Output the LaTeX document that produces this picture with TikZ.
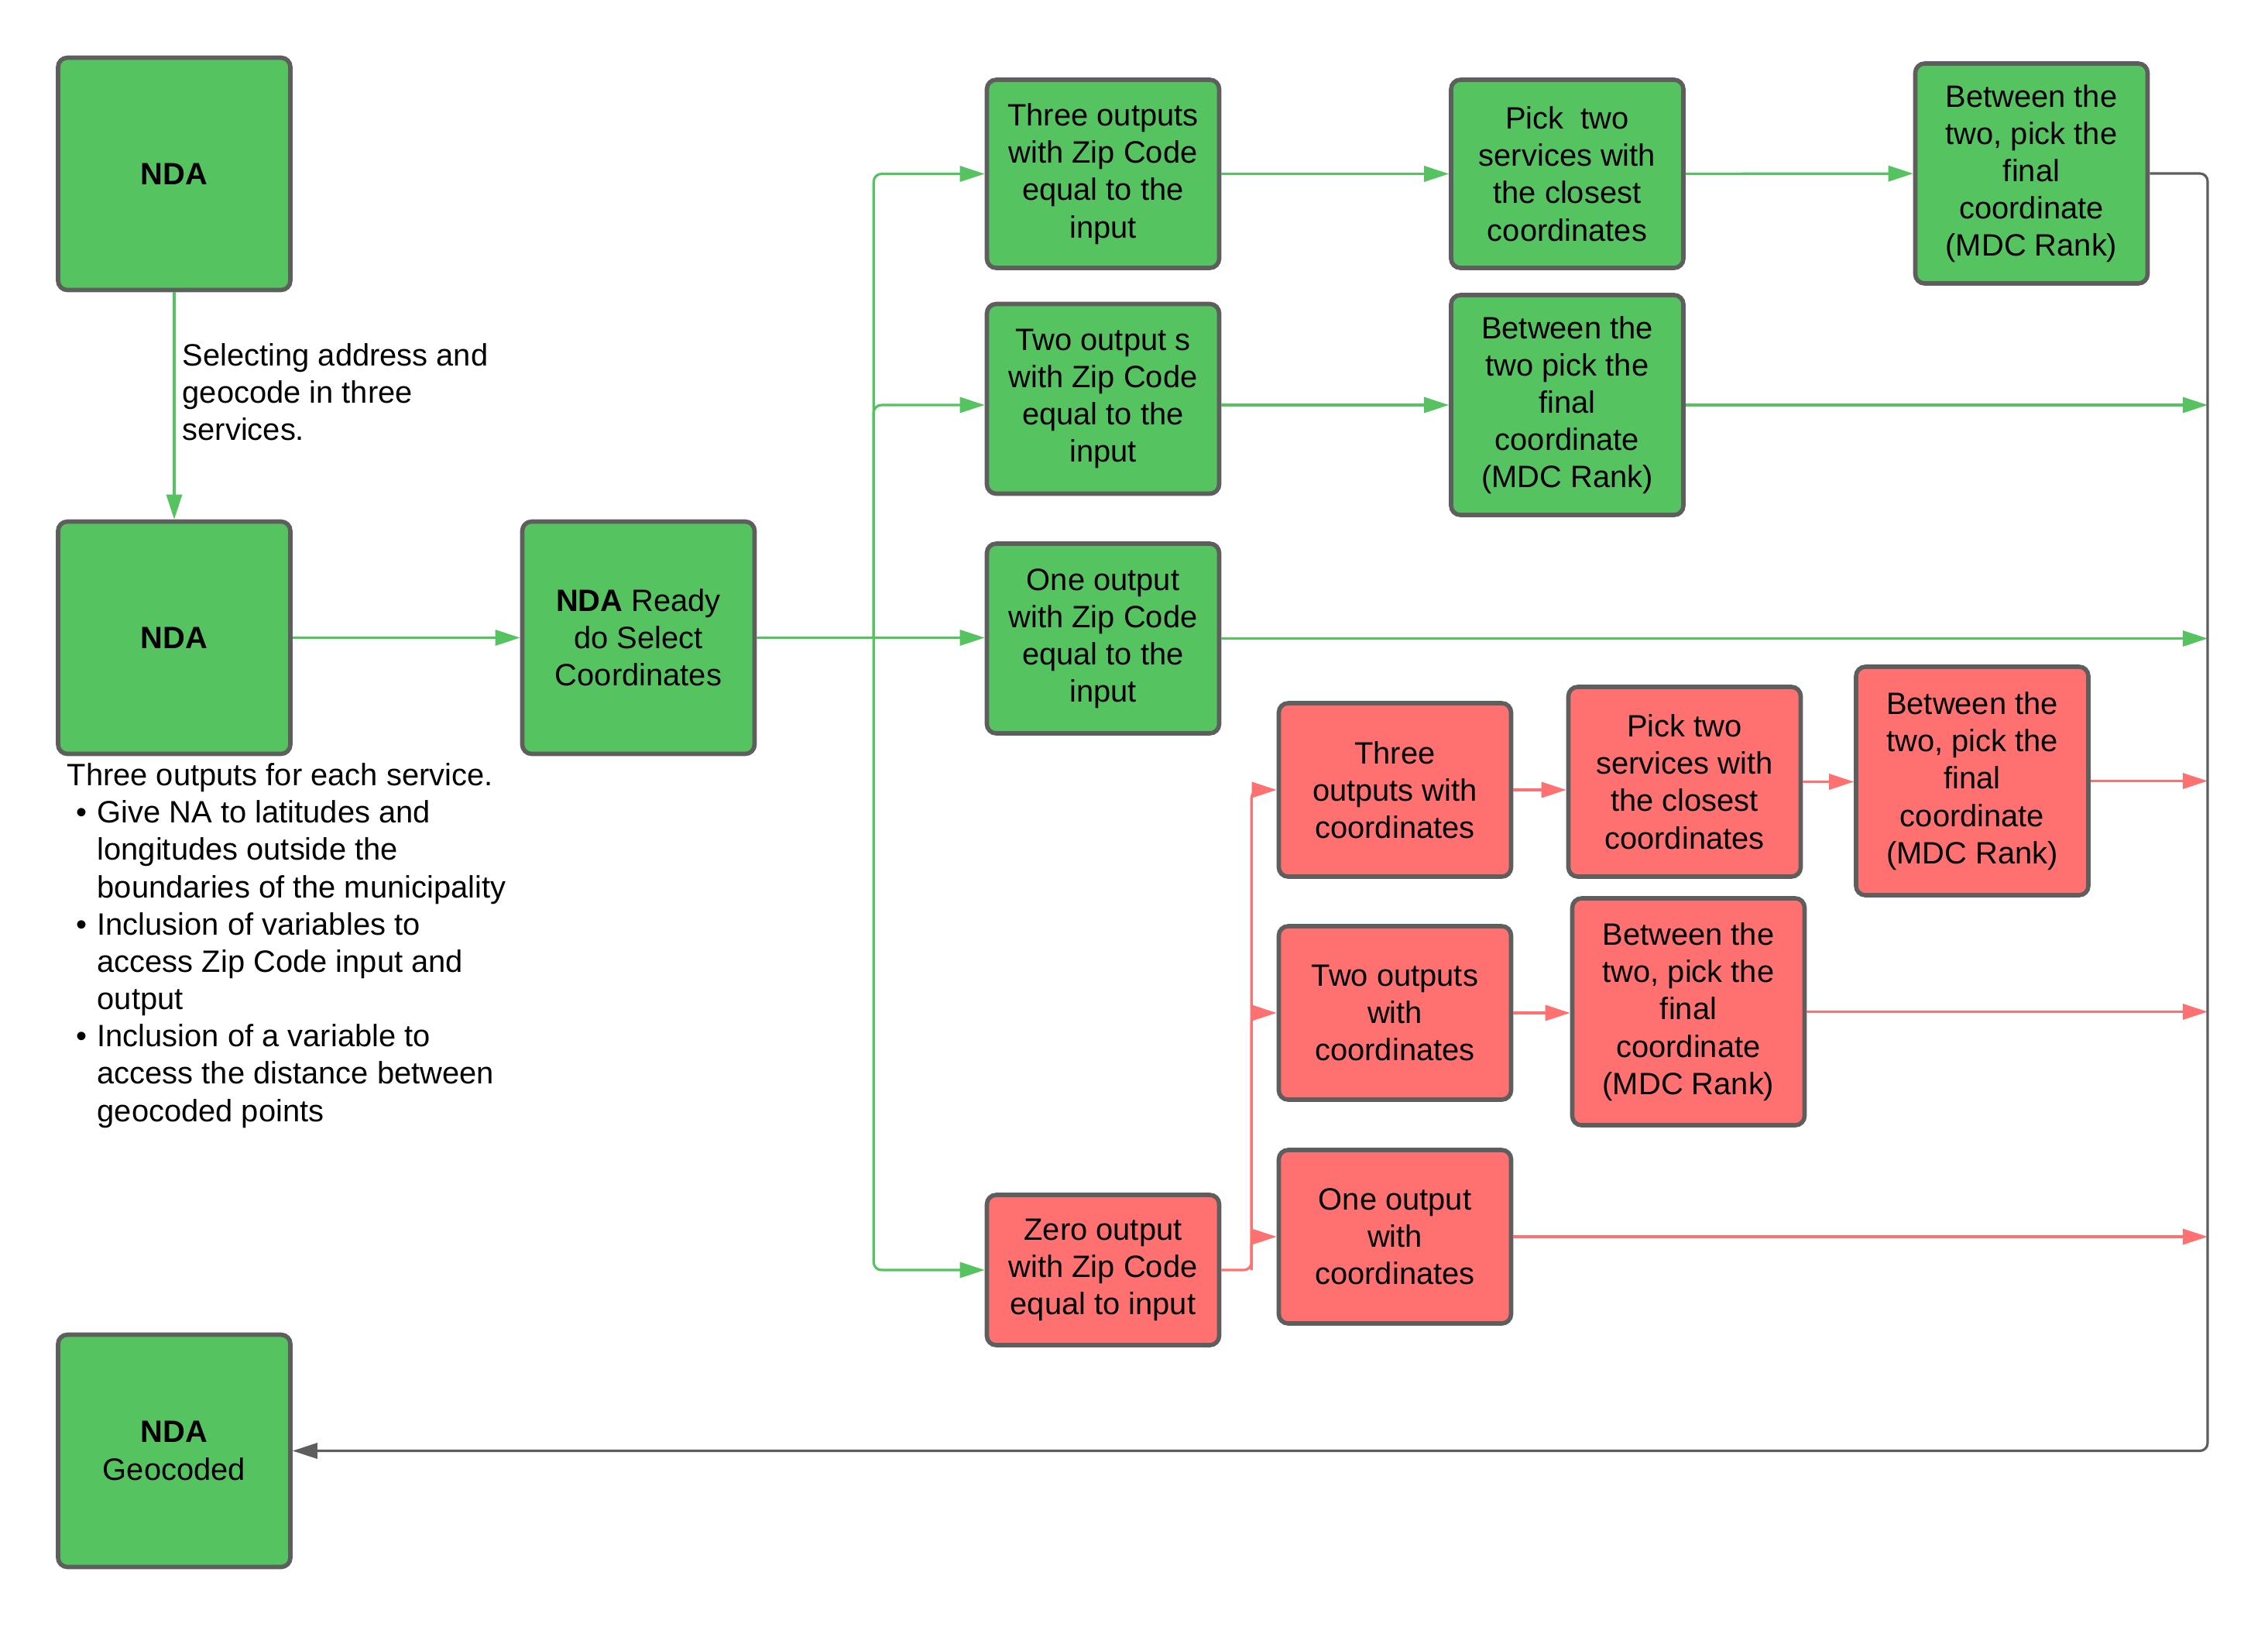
\documentclass[tikz,border=0pt]{standalone}
\usepackage{fontspec}
\setmainfont{Liberation Sans}
\usepackage{tikz}
\usetikzlibrary{calc,arrows.meta,positioning}
\definecolor{BoxGreen}{RGB}{84,195,96}
\definecolor{BoxRed}{RGB}{255,113,113}
\definecolor{EdgeGray}{RGB}{94,94,94}
\newcommand{\itm}{\makebox[0.39cm][l]{\hspace*{0.12cm}\textbullet}}
\newcommand{\ind}{\hspace*{0.39cm}}

\begin{document}
\begin{tikzpicture}[
    txt/.style={font=\fontsize{11.35}{13.7}\selectfont},
    gbox/.style={txt, draw=EdgeGray, fill=BoxGreen, line width=1.6pt, rounded corners=1.2mm,
        align=center, inner sep=0pt, minimum width=3cm},
    rbox/.style={gbox, fill=BoxRed},
    tip/.style={-{Triangle[length=3.2mm,width=2mm]}},
    garrow/.style={BoxGreen, line width=0.9pt, rounded corners=1mm, tip},
    rarrow/.style={BoxRed, line width=0.9pt, rounded corners=1mm, tip},
    karrow/.style={EdgeGray, line width=0.9pt, rounded corners=1mm, tip}
]
    \useasboundingbox (0,0) rectangle (29.29,-21);

    % left column
    \node[gbox, minimum height=3cm] (nda1) at (2.25,-2.245) {\textbf{NDA}};
    \node[gbox, minimum height=3cm] (nda2) at (2.25,-8.235) {\textbf{NDA}};
    \node[gbox, minimum height=3cm] (ready) at (8.245,-8.235) {\textbf{NDA} Ready\\do Select\\Coordinates};
    \node[gbox, minimum height=3cm] (geo) at (2.25,-18.735) {\textbf{NDA}\\Geocoded};

    % zip code outcomes
    \node[gbox, minimum height=2.43cm] (g3) at (14.245,-2.245) {Three outputs\\with Zip Code\\equal to the\\input};
    \node[gbox, minimum height=2.45cm] (g2) at (14.245,-5.15) {Two output s\\with Zip Code\\equal to the\\input};
    \node[gbox, minimum height=2.45cm] (g1) at (14.245,-8.245) {One output\\with Zip Code\\equal to the\\input};
    \node[rbox, minimum height=1.94cm] (r0) at (14.245,-16.4) {Zero output\\with Zip Code\\equal to input};

    \node[gbox, minimum height=2.43cm] (gp) at (20.24,-2.245) {Pick\ \ two\\services with\\the closest\\coordinates};
    \node[gbox, minimum height=2.84cm] (gb) at (20.24,-5.23) {Between the\\two pick the\\final\\coordinate\\(MDC Rank)};
    \node[gbox, minimum height=2.84cm] (gf) at (26.235,-2.24) {Between the\\two, pick the\\final\\coordinate\\(MDC Rank)};

    % no zip code match
    \node[rbox, minimum height=2.24cm] (r3) at (18.015,-10.2) {Three\\outputs with\\coordinates};
    \node[rbox, minimum height=2.24cm] (r2) at (18.015,-13.08) {Two outputs\\with\\coordinates};
    \node[rbox, minimum height=2.24cm] (r1) at (18.015,-15.97) {One output\\with\\coordinates};
    \node[rbox, minimum height=2.45cm] (rp) at (21.755,-10.095) {Pick two\\services with\\the closest\\coordinates};
    \node[rbox, minimum height=2.93cm] (rb) at (21.805,-13.065) {Between the\\two, pick the\\final\\coordinate\\(MDC Rank)};
    \node[rbox, minimum height=2.95cm] (rf) at (25.47,-10.085) {Between the\\two, pick the\\final\\coordinate\\(MDC Rank)};

    % notes
    \node[txt, align=left, anchor=west, inner sep=0pt] (selnote) at (2.35,-5.06)
        {Selecting address and\\geocode in three\\services.};
    \node[txt, align=left, anchor=west, inner sep=0pt] (outnote) at (0.86,-12.21)
        {Three outputs for each service.\\
         \itm Give NA to latitudes and\\
         \ind longitudes outside the\\
         \ind boundaries of the municipality\\
         \itm Inclusion of variables to\\
         \ind access Zip Code input and\\
         \ind output\\
         \itm Inclusion of a variable to\\
         \ind access the distance between\\
         \ind geocoded points};

    \coordinate (gsplit) at ($(ready.east)+(1.51,0)$);
    \coordinate (rsplit) at ($(r0.east)+(0.39,0)$);
    \coordinate (rail) at (28.51,-18.735);

    \draw[garrow] (nda1) -- (nda2);
    \draw[garrow] (nda2) -- (ready);
    \draw[garrow] (ready.east) -- (ready.east -| g1.west);
    \draw[garrow] (gsplit) |- (g3.west);
    \draw[garrow] (gsplit) |- (g2.west |- gb.west);
    \draw[garrow] (gsplit) |- (r0.west);
    \draw[garrow] (g3) -- (gp);
    \draw[garrow] (gp) -- (gf);
    \draw[garrow] (g2.east |- gb.west) -- (gb.west);

    \draw[rarrow] (r0.east) -- (rsplit) |- (r3.west);
    \draw[rarrow] (rsplit) |- (r2.west);
    \draw[rarrow] (rsplit) |- (r1.west);
    \draw[rarrow] (r3.east) -- (r3.east -| rp.west);
    \draw[rarrow] (rp.east) -- (rp.east -| rf.west);
    \draw[rarrow] (r2.east) -- (r2.east -| rb.west);

    % into the rail
    \draw[garrow] (gb.east) -- (gb.east -| rail);
    \draw[garrow] (g1.east) -- (g1.east -| rail);
    \draw[rarrow] (rf.east) -- (rf.east -| rail);
    \draw[rarrow] (rb.east) -- (rb.east -| rail);
    \draw[rarrow] (r1.east) -- (r1.east -| rail);
    \draw[karrow] (gf.east) -| (rail) -- (geo.east);
\end{tikzpicture}
\end{document}
